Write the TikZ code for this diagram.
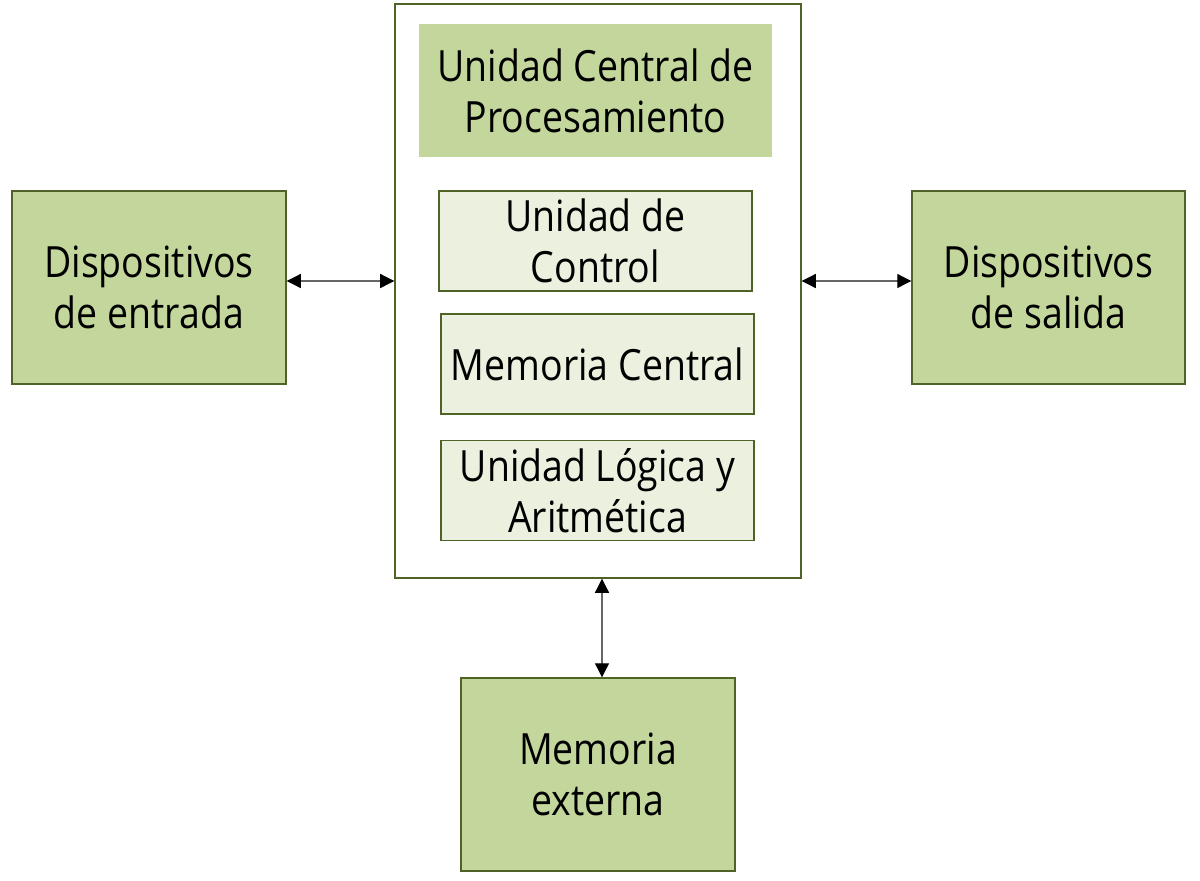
\documentclass[tikz,border=0pt]{standalone}
\usepackage{fontspec}
\setmainfont{Open Sans}[FakeStretch=0.87]
\usepackage{tikz}
\definecolor{oliveborder}{HTML}{4F6228}
\definecolor{darkgreen}{HTML}{C3D69B}
\definecolor{lightgreen}{HTML}{EBF1DE}
\usetikzlibrary{positioning, arrows.meta}
\tikzstyle{arrow} = [<->, >={Triangle[length=8pt,width=8pt,color=black]}, draw=black!60, line width=0.6pt]

\begin{document}
\begin{tikzpicture}[x=0.02cm, y=-0.02cm, nodes={align=center, font=\fontsize{24.5}{29}\selectfont, inner sep=0pt}]
                \tikzstyle{outerbox} = [rectangle, draw=oliveborder, line width=0.8pt, fill=darkgreen]
                \tikzstyle{innerbox} = [rectangle, draw=oliveborder, line width=0.8pt, fill=lightgreen, minimum width=313*0.02cm, minimum height=100*0.02cm]
                \tikzstyle{cpubox} = [rectangle, draw=oliveborder, line width=0.8pt, fill=white]

                \useasboundingbox (0,0) rectangle (1200,880);

                \node[cpubox, minimum width=406*0.02cm, minimum height=574*0.02cm](cpu) at (598,291) {};
                \node[fill=darkgreen, minimum width=353*0.02cm, minimum height=133*0.02cm](ucp) at (595.5,90.5) {Unidad Central de\\Procesamiento};
                \node[innerbox](control) at (595.5,241) {Unidad de\\Control};
                \node[innerbox](memcentral) at (597.5,364) {Memoria Central};
                \node[innerbox](ula) at (597.5,490.5) {Unidad Lógica y\\Aritmética};

                \node[outerbox, minimum width=274*0.02cm, minimum height=193*0.02cm](entrada) at (149,287.5) {Dispositivos\\de entrada};
                \node[outerbox, minimum width=273*0.02cm, minimum height=193*0.02cm](salida) at (1048.5,287.5) {Dispositivos\\de salida};
                \node[outerbox, minimum width=274*0.02cm, minimum height=193*0.02cm](memexterna) at (598,774.5) {Memoria\\externa};

                \draw[arrow] (entrada.east |- 0,281) -- (cpu.west |- 0,281);
                \draw[arrow] (cpu.east |- 0,281) -- (salida.west |- 0,281);
                \draw[arrow] (cpu.south -| 602,0) -- (memexterna.north -| 602,0);

        \end{tikzpicture}
\end{document}
